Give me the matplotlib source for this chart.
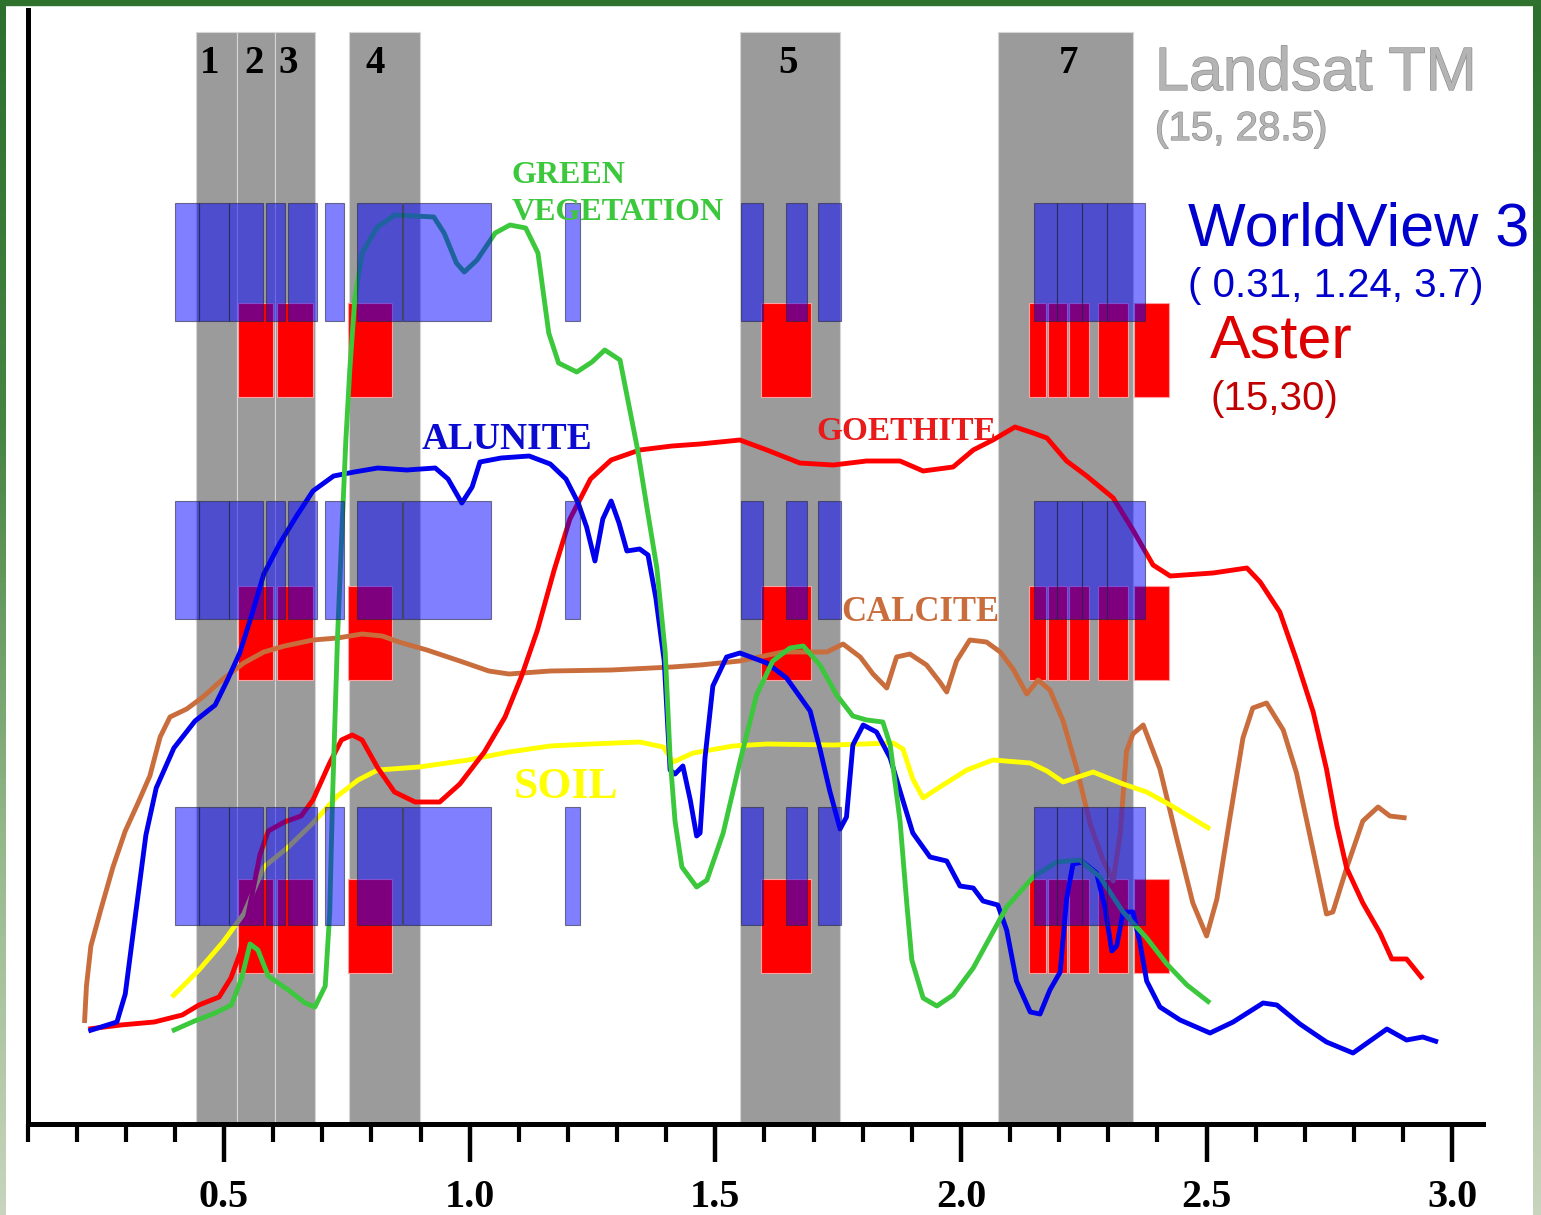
import numpy as np
import matplotlib
matplotlib.use("Agg")
import matplotlib.pyplot as plt
import matplotlib.patheffects as pe
from matplotlib.patches import Rectangle

# Landsat TM bands (um) and their labels
landsat_lo = [0.443, 0.526, 0.604, 0.754, 1.550, 2.075]
landsat_hi = [0.526, 0.604, 0.685, 0.899, 1.754, 2.350]
landsat_names = ["1", "2", "3", "4", "5", "7"]
landsat_label_x = [0.4715, 0.561, 0.630, 0.807, 1.648, 2.218]
landsat_top = 109.2

# WorldView 3 bands (um), drawn in three rows
wv3_lo = [0.40, 0.45, 0.51, 0.585, 0.63, 0.705, 0.77, 0.864, 1.195,
          1.552, 1.644, 1.710, 2.149, 2.196, 2.246, 2.297]
wv3_hi = [0.45, 0.51, 0.58, 0.625, 0.69, 0.745, 0.862, 1.043, 1.225,
          1.597, 1.686, 1.755, 2.196, 2.246, 2.297, 2.375]
wv3_rows = [80.3, 50.5, 19.9]
wv3_height = 11.8

# ASTER bands (um), drawn in three rows
aster_lo = [0.528, 0.607, 0.753, 1.593, 2.138, 2.177, 2.220, 2.279, 2.352]
aster_hi = [0.600, 0.681, 0.842, 1.695, 2.174, 2.216, 2.261, 2.340, 2.423]
aster_rows = [72.7, 44.4, 15.1]
aster_height = 9.45

# spectra (wavelength um, relative reflectance)
alunite_wl = [0.224, 0.282, 0.299, 0.320, 0.341, 0.362, 0.398, 0.441, 0.482, 0.506,
              0.532, 0.557, 0.581, 0.614, 0.649, 0.681, 0.723, 0.765, 0.813, 0.872,
              0.930, 0.956, 0.984, 1.005, 1.021, 1.064, 1.121, 1.164, 1.196, 1.221,
              1.238, 1.255, 1.271, 1.288, 1.304, 1.320, 1.346, 1.363, 1.379, 1.396,
              1.408, 1.418, 1.434, 1.449, 1.462, 1.469, 1.479, 1.495, 1.523, 1.550,
              1.605, 1.645, 1.693, 1.713, 1.733, 1.754, 1.767, 1.780, 1.801, 1.828,
              1.856, 1.876, 1.902, 1.937, 1.971, 1.998, 2.025, 2.045, 2.075, 2.093,
              2.113, 2.141, 2.161, 2.181, 2.202, 2.215, 2.228, 2.248, 2.276, 2.293,
              2.307, 2.317, 2.330, 2.350, 2.364, 2.378, 2.405, 2.446, 2.507, 2.554,
              2.615, 2.643, 2.690, 2.744, 2.798, 2.867, 2.907, 2.940, 2.971]
alunite_r = [9.3, 10.2, 13.0, 21.0, 28.9, 33.6, 37.6, 40.3, 41.9, 44.3,
             47.1, 51.0, 55.0, 58.1, 60.9, 63.3, 64.8, 65.2, 65.6, 65.4,
             65.6, 64.5, 62.1, 63.7, 66.2, 66.6, 66.8, 66.0, 64.5, 62.1,
             59.7, 56.3, 60.5, 62.3, 60.1, 57.3, 57.5, 56.9, 52.6, 46.3,
             35.4, 35.0, 35.8, 32.4, 28.8, 29.1, 36.6, 43.8, 46.7, 47.1,
             46.1, 44.6, 41.3, 37.5, 33.3, 29.5, 30.7, 37.9, 39.9, 39.2,
             36.6, 33.3, 29.1, 26.7, 26.3, 23.8, 23.6, 22.3, 21.9, 19.4,
             14.3, 11.2, 11.0, 13.4, 15.2, 22.5, 26.0, 26.2, 25.1, 21.7,
             17.3, 17.8, 21.2, 21.2, 18.2, 14.3, 11.7, 10.4, 9.1, 10.2,
             12.1, 11.9, 10.0, 8.2, 7.1, 9.5, 8.4, 8.7, 8.2]

goethite_wl = [0.224, 0.290, 0.358, 0.415, 0.449, 0.490, 0.514, 0.532, 0.557, 0.573,
               0.590, 0.623, 0.657, 0.681, 0.714, 0.739, 0.761, 0.781, 0.813, 0.847,
               0.889, 0.939, 0.980, 1.030, 1.072, 1.105, 1.138, 1.172, 1.204, 1.246,
               1.288, 1.346, 1.412, 1.469, 1.550, 1.605, 1.672, 1.740, 1.808, 1.876,
               1.923, 1.984, 2.025, 2.065, 2.110, 2.147, 2.175, 2.215, 2.256, 2.310,
               2.350, 2.391, 2.426, 2.513, 2.582, 2.609, 2.649, 2.683, 2.717, 2.744,
               2.765, 2.785, 2.818, 2.853, 2.877, 2.907, 2.940]
goethite_r = [9.5, 9.9, 10.2, 10.9, 11.9, 12.7, 14.6, 17.0, 22.9, 26.9,
              29.3, 30.2, 30.8, 32.4, 36.0, 38.4, 38.9, 38.4, 35.6, 33.2,
              32.2, 32.2, 34.0, 37.2, 40.7, 44.7, 49.4, 55.4, 60.5, 64.5,
              66.4, 67.4, 67.8, 68.0, 68.4, 67.4, 66.1, 65.9, 66.3, 66.3,
              65.3, 65.7, 67.4, 68.4, 69.7, 69.1, 68.6, 66.3, 64.8, 62.6,
              59.4, 55.9, 54.8, 55.1, 55.6, 54.2, 51.2, 46.4, 41.2, 35.5,
              29.9, 25.6, 22.1, 19.1, 16.5, 16.5, 14.5]

calcite_wl = [0.216, 0.220, 0.229, 0.249, 0.274, 0.299, 0.324, 0.349, 0.370, 0.390,
              0.424, 0.457, 0.498, 0.540, 0.581, 0.623, 0.681, 0.731, 0.781, 0.822,
              0.856, 0.913, 0.980, 1.039, 1.080, 1.164, 1.288, 1.412, 1.469, 1.550,
              1.638, 1.727, 1.760, 1.795, 1.821, 1.849, 1.869, 1.896, 1.930, 1.957,
              1.971, 1.991, 2.018, 2.052, 2.080, 2.106, 2.134, 2.157, 2.181, 2.208,
              2.236, 2.263, 2.289, 2.310, 2.324, 2.337, 2.350, 2.371, 2.405, 2.439,
              2.472, 2.500, 2.521, 2.548, 2.574, 2.594, 2.622, 2.656, 2.683, 2.717,
              2.744, 2.757, 2.785, 2.818, 2.849, 2.873, 2.907]
calcite_r = [10.1, 13.8, 17.8, 21.4, 25.7, 29.3, 32.0, 34.8, 38.7, 40.7,
             41.5, 42.7, 44.5, 46.1, 47.2, 47.8, 48.4, 48.6, 49.0, 48.8,
             48.2, 47.4, 46.3, 45.3, 45.0, 45.3, 45.4, 45.7, 45.9, 46.3,
             47.2, 47.2, 48.0, 46.7, 45.0, 43.6, 46.7, 47.0, 45.9, 44.2,
             43.2, 46.3, 48.4, 48.2, 47.2, 45.5, 43.0, 44.4, 43.4, 40.3,
             35.5, 30.0, 26.4, 24.3, 29.0, 37.3, 39.0, 39.9, 35.5, 28.6,
             22.1, 18.8, 22.5, 30.8, 38.6, 41.6, 42.1, 39.4, 35.1, 27.3,
             21.0, 21.2, 25.6, 30.3, 31.7, 30.8, 30.6]

soil_wl = [0.394, 0.449, 0.498, 0.540, 0.581, 0.631, 0.681, 0.731, 0.773, 0.813,
           0.897, 0.997, 1.080, 1.164, 1.246, 1.346, 1.394, 1.414, 1.455, 1.536,
           1.605, 1.740, 1.862, 1.882, 1.902, 1.923, 1.957, 2.012, 2.065, 2.141,
           2.175, 2.208, 2.269, 2.330, 2.378, 2.426, 2.507]
soil_r = [12.7, 15.4, 18.2, 21.0, 25.7, 27.7, 30.1, 32.8, 34.4, 35.4,
          35.7, 36.4, 37.2, 37.8, 38.0, 38.2, 37.7, 36.2, 37.1, 37.8,
          38.0, 37.9, 38.1, 37.5, 34.5, 32.6, 33.7, 35.4, 36.4, 36.1,
          35.3, 34.2, 35.2, 34.0, 33.2, 31.9, 29.5]

veg_wl = [0.394, 0.440, 0.482, 0.515, 0.536, 0.553, 0.569, 0.590, 0.631, 0.665,
          0.685, 0.706, 0.715, 0.721, 0.731, 0.741, 0.748, 0.756, 0.766, 0.781,
          0.812, 0.848, 0.927, 0.948, 0.973, 0.989, 1.015, 1.052, 1.082, 1.114,
          1.139, 1.161, 1.181, 1.218, 1.249, 1.275, 1.306, 1.322, 1.342, 1.360,
          1.381, 1.398, 1.408, 1.418, 1.432, 1.462, 1.483, 1.516, 1.550, 1.584,
          1.617, 1.652, 1.679, 1.713, 1.747, 1.780, 1.808, 1.841, 1.856, 1.876,
          1.890, 1.900, 1.923, 1.951, 1.984, 2.025, 2.093, 2.147, 2.195, 2.242,
          2.283, 2.330, 2.378, 2.419, 2.460, 2.507]
veg_r = [9.3, 10.3, 11.1, 11.9, 14.6, 18.0, 17.4, 14.8, 13.4, 12.1,
         11.7, 13.8, 21.0, 32.8, 48.6, 60.5, 68.4, 75.4, 82.4, 87.1,
         89.7, 90.9, 90.7, 89.1, 86.1, 85.2, 86.4, 89.1, 89.9, 89.6,
         87.1, 79.1, 76.1, 75.2, 76.2, 77.4, 76.4, 72.4, 67.4, 61.9,
         55.6, 47.2, 36.6, 30.3, 25.7, 23.7, 24.4, 29.1, 36.2, 42.9,
         46.3, 47.6, 47.8, 45.9, 42.9, 40.8, 40.4, 40.2, 37.9, 30.3,
         21.9, 16.4, 12.6, 11.8, 12.9, 15.6, 21.7, 24.7, 26.2, 26.4,
         24.7, 21.2, 18.6, 16.0, 13.9, 12.1]

major_ticks = [0.5, 1.0, 1.5, 2.0, 2.5, 3.0]
major_labels = ["0.5", "1.0", "1.5", "2.0", "2.5", "3.0"]
minor_ticks = [0.1, 0.2, 0.3, 0.4, 0.6, 0.7, 0.8, 0.9, 1.1, 1.2, 1.3, 1.4,
               1.6, 1.7, 1.8, 1.9, 2.1, 2.2, 2.3, 2.4, 2.6, 2.7, 2.8, 2.9]

SERIF = "Liberation Serif"
SANS = "Liberation Sans"

fig = plt.figure(figsize=(15.41, 12.15), dpi=100)
fig.patch.set_facecolor("white")

# green frame around the picture
bg = fig.add_axes([0, 0, 1, 1], zorder=-10)
stops = np.array([[45, 112, 45], [70, 132, 66], [150, 185, 140], [200, 212, 190]]) / 255.0
pos = np.linspace(0, 1, 200)
grad = np.stack([np.interp(pos, [0, 0.35, 0.7, 1.0], stops[:, k]) for k in range(3)], axis=1)
grad = grad[:, None, :]
bg.imshow(grad, extent=[0, 6, 1215, 0], aspect="auto")
bg.imshow(grad, extent=[1533, 1541, 1215, 0], aspect="auto")
bg.add_patch(Rectangle((0, 0), 1541, 5, color="#2e722e"))
bg.set_xlim(0, 1541)
bg.set_ylim(1215, 0)
bg.axis("off")

ax = fig.add_axes([27.5 / 1541, 91 / 1215, (1483 - 27.5) / 1541, (1124 - 10) / 1215])
ax.set_xlim(0.1, 3.0626)
ax.set_ylim(0, 111.4)

# Landsat bands
lw_ = np.array(landsat_hi) - np.array(landsat_lo)
ax.bar(landsat_lo, landsat_top, width=lw_, bottom=0, align="edge",
       color="#9b9b9b", edgecolor="#d6d6d6", linewidth=0.8, zorder=1)
for x, name in zip(landsat_label_x, landsat_names):
    ax.text(x, 105.1, name, ha="center", va="baseline", fontsize=28,
            fontweight="bold", family=SERIF, color="black", zorder=6)

# ASTER bands
aw = np.array(aster_hi) - np.array(aster_lo)
for b in aster_rows:
    ax.bar(aster_lo, aster_height, width=aw, bottom=b, align="edge",
           color="#ff0000", edgecolor="#ffa0a0", linewidth=0.8, zorder=2)

# spectra
curve_lw = 3.5
kw = dict(lw=curve_lw, zorder=3, solid_joinstyle="round", solid_capstyle="butt")
ax.plot(calcite_wl, calcite_r, color="#c96d3d", **kw)
ax.plot(soil_wl, soil_r, color="#ffff00", **kw)
ax.plot(goethite_wl, goethite_r, color="#ff0000", **kw)
ax.plot(alunite_wl, alunite_r, color="#0000ee", **kw)
ax.plot(veg_wl, veg_r, color="#3cc83c", **kw)

# WorldView 3 bands (semi-transparent, on top)
ww = np.array(wv3_hi) - np.array(wv3_lo)
for b in wv3_rows:
    ax.bar(wv3_lo, wv3_height, width=ww, bottom=b, align="edge",
           facecolor=(0, 0, 1, 0.5), edgecolor=(0.15, 0.15, 0.25, 0.6),
           linewidth=0.8, zorder=4)

# curve labels
ax.text(1.086, 94.1, "GREEN", color="#3cc83c", fontsize=23, fontweight="bold",
        family=SERIF, va="baseline", zorder=6)
ax.text(1.086, 90.4, "VEGETATION", color="#3cc83c", fontsize=23, fontweight="bold",
        family=SERIF, va="baseline", zorder=6)
ax.text(0.903, 67.5, "ALUNITE", color="#0a0ad0", fontsize=27, fontweight="bold",
        family=SERIF, va="baseline", zorder=6)
ax.text(1.705, 68.4, "GOETHITE", color="#e81a1a", fontsize=24, fontweight="bold",
        family=SERIF, va="baseline", zorder=6)
ax.text(1.756, 50.3, "CALCITE", color="#c96d3d", fontsize=25, fontweight="bold",
        family=SERIF, va="baseline", zorder=6)
ax.text(1.090, 32.6, "SOIL", color="#ffff00", fontsize=31.5, fontweight="bold",
        family=SERIF, va="baseline", zorder=6)

# sensor legend text
outline = [pe.Stroke(linewidth=0.9, foreground="#8c8c8c"), pe.Normal()]
ax.text(2.395, 103.4, "Landsat TM", color="#b4b4b4", fontsize=44, family=SANS,
        va="baseline", path_effects=outline, zorder=6)
ax.text(2.395, 98.4, "(15, 28.5)", color="#b4b4b4", fontsize=29, family=SANS,
        va="baseline", path_effects=outline, zorder=6)
ax.text(2.462, 87.9, "WorldView 3", color="#0000cc", fontsize=44, family=SANS,
        va="baseline", zorder=6)
ax.text(2.462, 82.7, "( 0.31, 1.24, 3.7)", color="#0000cc", fontsize=29, family=SANS,
        va="baseline", zorder=6)
ax.text(2.507, 76.7, "Aster", color="#dd0000", fontsize=44, family=SANS,
        va="baseline", zorder=6)
ax.text(2.507, 71.4, "(15,30)", color="#c00000", fontsize=29, family=SANS,
        va="baseline", zorder=6)

# axes styling
for side in ["top", "right"]:
    ax.spines[side].set_visible(False)
for side in ["left", "bottom"]:
    ax.spines[side].set_linewidth(3.6)
    ax.spines[side].set_color("black")
    ax.spines[side].set_zorder(5)
ax.set_yticks([])
ax.set_xticks(major_ticks)
ax.set_xticklabels(major_labels)
ax.set_xticks(minor_ticks, minor=True)
ax.tick_params(axis="x", which="major", direction="out", length=27.7, width=3.2,
               pad=12, labelsize=29)
ax.tick_params(axis="x", which="minor", direction="out", length=13.3, width=3.0)
for t in ax.get_xticklabels():
    t.set_fontfamily(SERIF)
    t.set_fontweight("bold")

fig.savefig("out.png", dpi=100, facecolor="white")
